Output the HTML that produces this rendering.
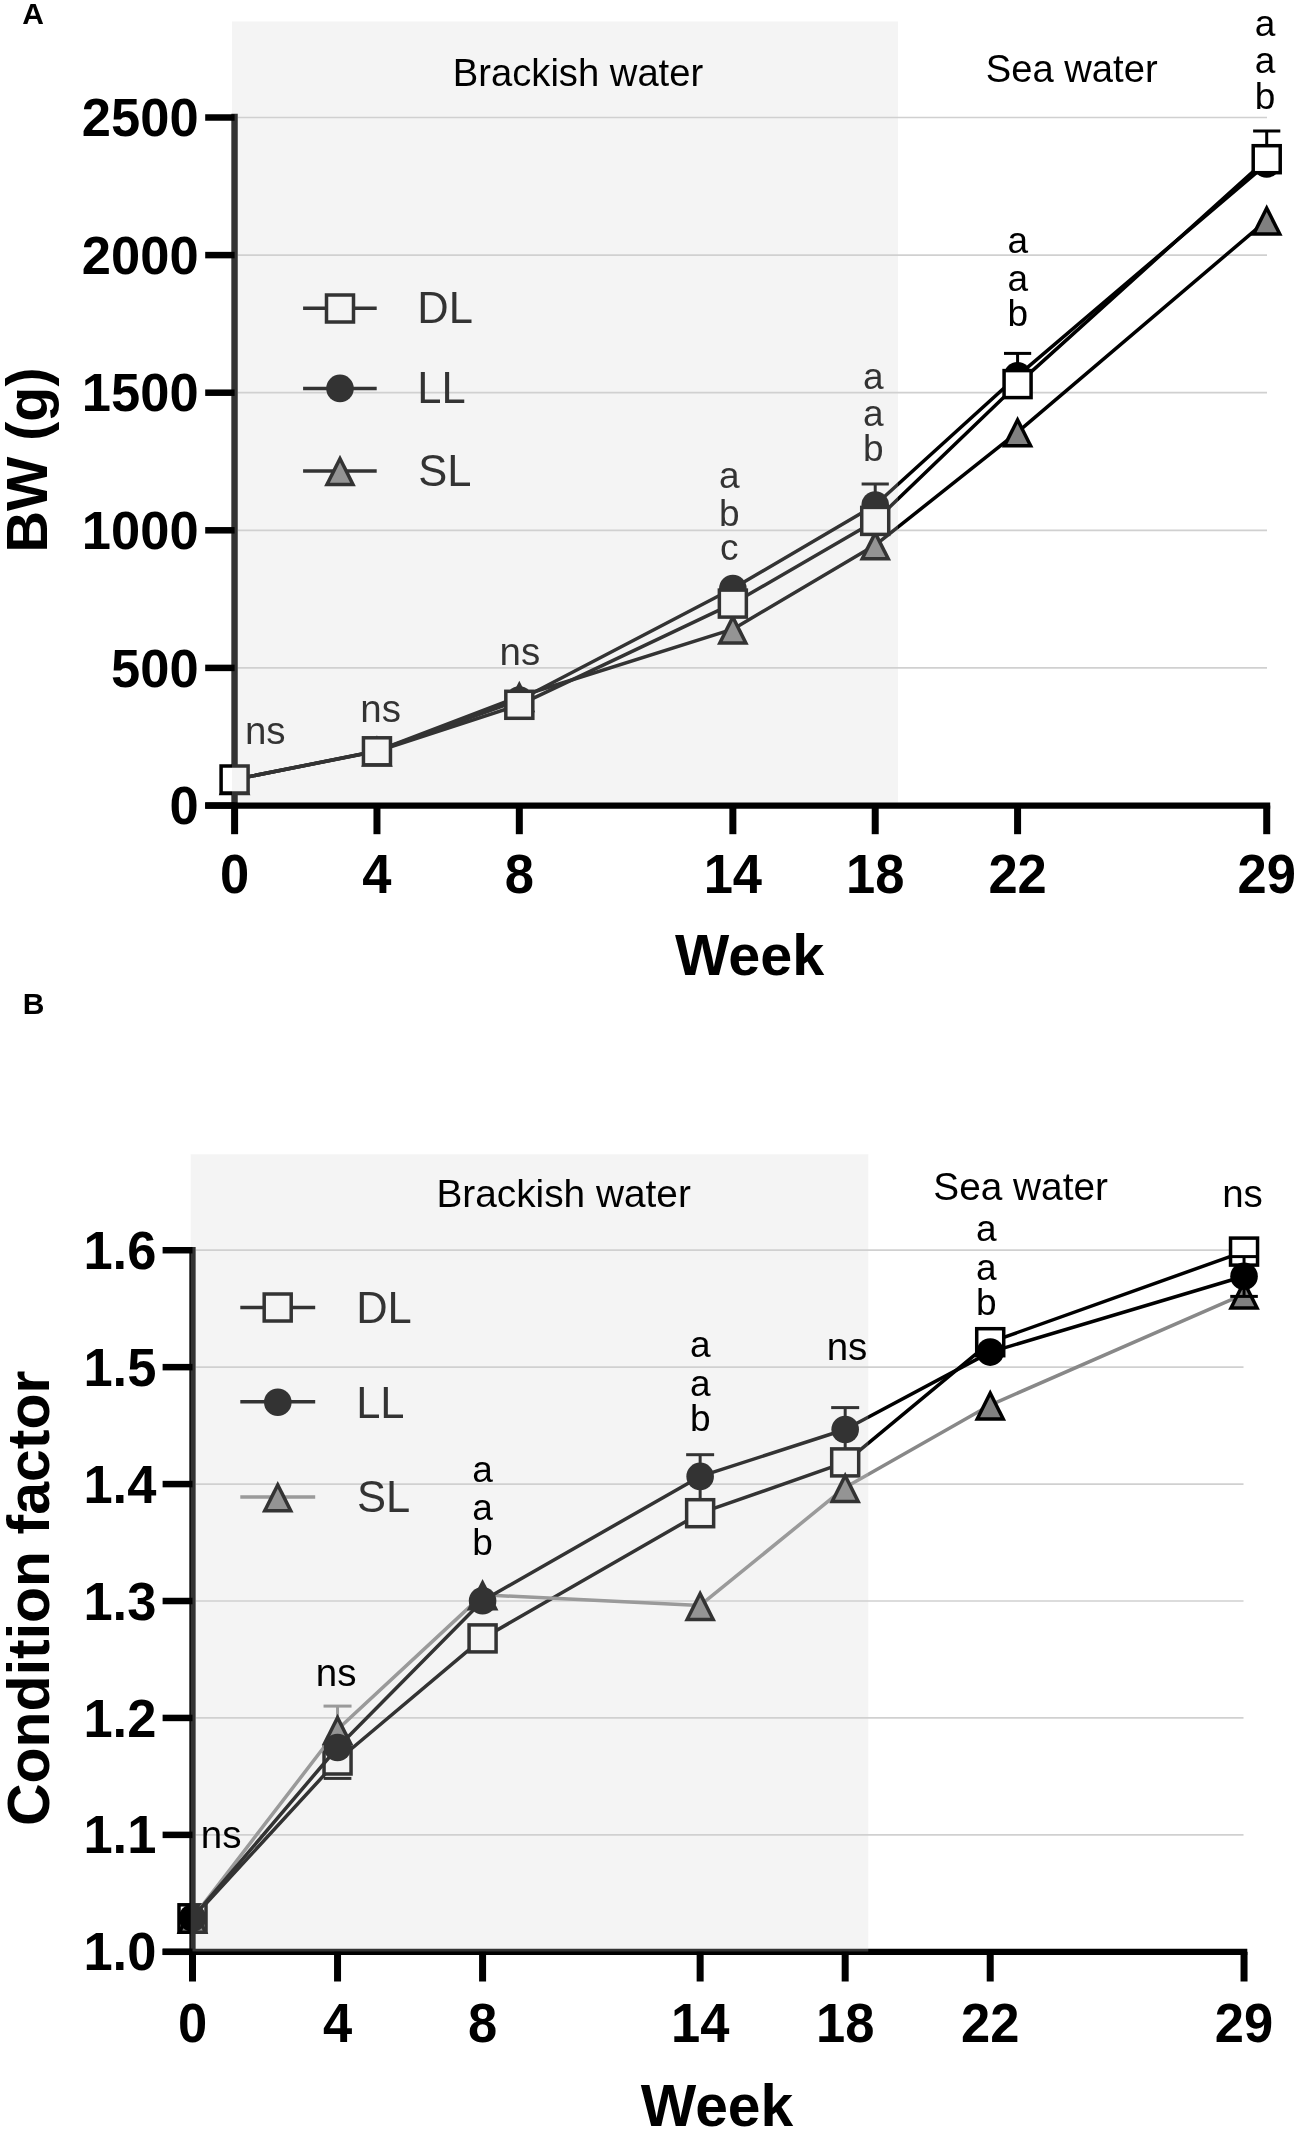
<!DOCTYPE html>
<html><head><meta charset="utf-8"><title>Figure</title>
<style>
html,body{margin:0;padding:0;background:#fff;}
body{width:1299px;height:2131px;overflow:hidden;}
svg{display:block;will-change:transform;font-family:"Liberation Sans", sans-serif;}
</style></head>
<body>
<svg width="1299" height="2131" viewBox="0 0 1299 2131">
<rect x="0" y="0" width="1299" height="2131" fill="#fff"/>
<line x1="237.7" y1="667.9" x2="1267" y2="667.9" stroke="#d0d0d0" stroke-width="1.7" stroke-linecap="butt"/>
<line x1="237.7" y1="530.3" x2="1267" y2="530.3" stroke="#d0d0d0" stroke-width="1.7" stroke-linecap="butt"/>
<line x1="237.7" y1="392.7" x2="1267" y2="392.7" stroke="#d0d0d0" stroke-width="1.7" stroke-linecap="butt"/>
<line x1="237.7" y1="255.1" x2="1267" y2="255.1" stroke="#d0d0d0" stroke-width="1.7" stroke-linecap="butt"/>
<line x1="237.7" y1="117.5" x2="1267" y2="117.5" stroke="#d0d0d0" stroke-width="1.7" stroke-linecap="butt"/>
<line x1="234.6" y1="113.8" x2="234.6" y2="805.5" stroke="#000" stroke-width="6.3" stroke-linecap="butt"/>
<polyline points="234.6,779.5 376.96,751 519.32,696.5 732.86,629.2 875.22,545.1 1017.58,432.2 1266.71,220.3" fill="none" stroke="#000" stroke-width="3.5" stroke-linejoin="round"/>
<polygon points="234.6,763.8 250.45,795.3 218.75,795.3" fill="#000"/>
<polygon points="234.6,771.59 244.77,791.8 224.43,791.8" fill="#808080"/>
<polygon points="376.96,735.3 392.81,766.8 361.11,766.8" fill="#000"/>
<polygon points="376.96,743.09 387.13,763.3 366.79,763.3" fill="#808080"/>
<polygon points="519.32,680.7 535.17,712.2 503.47,712.2" fill="#000"/>
<polygon points="519.32,688.49 529.49,708.7 509.15,708.7" fill="#808080"/>
<polygon points="732.86,613.2 748.71,644.7 717.01,644.7" fill="#000"/>
<polygon points="732.86,620.99 743.03,641.2 722.69,641.2" fill="#808080"/>
<polygon points="875.22,529.1 891.07,560.6 859.37,560.6" fill="#000"/>
<polygon points="875.22,536.89 885.39,557.1 865.05,557.1" fill="#808080"/>
<polygon points="1017.58,415.9 1033.43,447.4 1001.73,447.4" fill="#000"/>
<polygon points="1017.58,423.69 1027.75,443.9 1007.41,443.9" fill="#808080"/>
<polygon points="1266.71,204.3 1282.56,235.8 1250.86,235.8" fill="#000"/>
<polygon points="1266.71,212.09 1276.88,232.3 1256.54,232.3" fill="#808080"/>
<polyline points="234.6,779.5 376.96,751 519.32,700 732.86,588.5 875.22,505 1017.58,375.8 1266.71,163.9" fill="none" stroke="#000" stroke-width="3.5" stroke-linejoin="round"/>
<line x1="875.22" y1="505" x2="875.22" y2="484" stroke="#000" stroke-width="3" stroke-linecap="butt"/>
<line x1="861.62" y1="484" x2="888.82" y2="484" stroke="#000" stroke-width="3" stroke-linecap="butt"/>
<line x1="1017.58" y1="375.8" x2="1017.58" y2="353.4" stroke="#000" stroke-width="3" stroke-linecap="butt"/>
<line x1="1003.98" y1="353.4" x2="1031.18" y2="353.4" stroke="#000" stroke-width="3" stroke-linecap="butt"/>
<line x1="1266.71" y1="163.9" x2="1266.71" y2="131" stroke="#000" stroke-width="3" stroke-linecap="butt"/>
<line x1="1253.11" y1="131" x2="1280.31" y2="131" stroke="#000" stroke-width="3" stroke-linecap="butt"/>
<circle cx="234.6" cy="779.5" r="13.8" fill="#000"/>
<circle cx="376.96" cy="751" r="13.8" fill="#000"/>
<circle cx="519.32" cy="700" r="13.8" fill="#000"/>
<circle cx="732.86" cy="588.5" r="13.8" fill="#000"/>
<circle cx="875.22" cy="505" r="13.8" fill="#000"/>
<circle cx="1017.58" cy="375.8" r="13.8" fill="#000"/>
<circle cx="1266.71" cy="163.9" r="13.8" fill="#000"/>
<polyline points="234.6,779.5 376.96,751.3 519.32,704.8 732.86,603.6 875.22,520.9 1017.58,384.1 1266.71,159.2" fill="none" stroke="#000" stroke-width="3.5" stroke-linejoin="round"/>
<rect x="221.1" y="766" width="27" height="27" fill="#fff" stroke="#000" stroke-width="3.5"/>
<rect x="363.46" y="737.8" width="27" height="27" fill="#fff" stroke="#000" stroke-width="3.5"/>
<rect x="505.82" y="691.3" width="27" height="27" fill="#fff" stroke="#000" stroke-width="3.5"/>
<rect x="719.36" y="590.1" width="27" height="27" fill="#fff" stroke="#000" stroke-width="3.5"/>
<rect x="861.72" y="507.4" width="27" height="27" fill="#fff" stroke="#000" stroke-width="3.5"/>
<rect x="1004.08" y="370.6" width="27" height="27" fill="#fff" stroke="#000" stroke-width="3.5"/>
<rect x="1253.21" y="145.7" width="27" height="27" fill="#fff" stroke="#000" stroke-width="3.5"/>
<text x="265.3" y="743.6" font-size="38.5" font-weight="normal" text-anchor="middle" fill="#000">ns</text>
<text x="380.7" y="722.4" font-size="38.5" font-weight="normal" text-anchor="middle" fill="#000">ns</text>
<text x="519.9" y="665" font-size="38.5" font-weight="normal" text-anchor="middle" fill="#000">ns</text>
<text x="729.3" y="488.1" font-size="37" font-weight="normal" text-anchor="middle" fill="#000">a</text>
<text x="729.3" y="526" font-size="37" font-weight="normal" text-anchor="middle" fill="#000">b</text>
<text x="729.3" y="560.1" font-size="37" font-weight="normal" text-anchor="middle" fill="#000">c</text>
<text x="873.3" y="388.7" font-size="37" font-weight="normal" text-anchor="middle" fill="#000">a</text>
<text x="873.3" y="426.2" font-size="37" font-weight="normal" text-anchor="middle" fill="#000">a</text>
<text x="873.3" y="460.9" font-size="37" font-weight="normal" text-anchor="middle" fill="#000">b</text>
<text x="1017.7" y="253.3" font-size="37" font-weight="normal" text-anchor="middle" fill="#000">a</text>
<text x="1017.7" y="291.2" font-size="37" font-weight="normal" text-anchor="middle" fill="#000">a</text>
<text x="1017.7" y="325.9" font-size="37" font-weight="normal" text-anchor="middle" fill="#000">b</text>
<text x="1265" y="35.9" font-size="37" font-weight="normal" text-anchor="middle" fill="#000">a</text>
<text x="1265" y="73.4" font-size="37" font-weight="normal" text-anchor="middle" fill="#000">a</text>
<text x="1265" y="108.6" font-size="37" font-weight="normal" text-anchor="middle" fill="#000">b</text>
<line x1="303.1" y1="308.3" x2="376.7" y2="308.3" stroke="#000" stroke-width="3.5" stroke-linecap="butt"/>
<rect x="326.5" y="295" width="27" height="27" fill="#fff" stroke="#000" stroke-width="3.5"/>
<text x="417.33" y="323" font-size="43.5" font-weight="normal" text-anchor="start" fill="#000">DL</text>
<line x1="303.1" y1="388.6" x2="376.7" y2="388.6" stroke="#000" stroke-width="3.5" stroke-linecap="butt"/>
<circle cx="340" cy="388.4" r="13.8" fill="#000"/>
<text x="417.33" y="403" font-size="43.5" font-weight="normal" text-anchor="start" fill="#000">LL</text>
<line x1="303.1" y1="470.9" x2="376.7" y2="470.9" stroke="#000" stroke-width="3.5" stroke-linecap="butt"/>
<polygon points="340,454.8 355.85,486.3 324.15,486.3" fill="#000"/>
<polygon points="340,462.59 350.17,482.8 329.83,482.8" fill="#808080"/>
<text x="418.14" y="486" font-size="43.5" font-weight="normal" text-anchor="start" fill="#000">SL</text>
<rect x="232" y="21.5" width="666" height="781" fill="#d2d2d2" fill-opacity="0.243"/>
<text x="452.77" y="85.5" font-size="38.2" font-weight="normal" text-anchor="start" fill="#000">Brackish water</text>
<text x="985.68" y="81.6" font-size="38.2" font-weight="normal" text-anchor="start" fill="#000">Sea water</text>
<line x1="205.2" y1="805.55" x2="1270.2" y2="805.55" stroke="#000" stroke-width="6.3" stroke-linecap="butt"/>
<line x1="205.2" y1="805.5" x2="234.6" y2="805.5" stroke="#000" stroke-width="6.5" stroke-linecap="butt"/>
<g transform="translate(198.6 824.1) scale(1 1.035)"><text x="0" y="0" font-size="52.5" font-weight="bold" text-anchor="end" fill="#000">0</text></g>
<line x1="205.2" y1="667.9" x2="234.6" y2="667.9" stroke="#000" stroke-width="6.5" stroke-linecap="butt"/>
<g transform="translate(198.6 686.5) scale(1 1.035)"><text x="0" y="0" font-size="52.5" font-weight="bold" text-anchor="end" fill="#000">500</text></g>
<line x1="205.2" y1="530.3" x2="234.6" y2="530.3" stroke="#000" stroke-width="6.5" stroke-linecap="butt"/>
<g transform="translate(198.6 548.9) scale(1 1.035)"><text x="0" y="0" font-size="52.5" font-weight="bold" text-anchor="end" fill="#000">1000</text></g>
<line x1="205.2" y1="392.7" x2="234.6" y2="392.7" stroke="#000" stroke-width="6.5" stroke-linecap="butt"/>
<g transform="translate(198.6 411.3) scale(1 1.035)"><text x="0" y="0" font-size="52.5" font-weight="bold" text-anchor="end" fill="#000">1500</text></g>
<line x1="205.2" y1="255.1" x2="234.6" y2="255.1" stroke="#000" stroke-width="6.5" stroke-linecap="butt"/>
<g transform="translate(198.6 273.7) scale(1 1.035)"><text x="0" y="0" font-size="52.5" font-weight="bold" text-anchor="end" fill="#000">2000</text></g>
<line x1="205.2" y1="117.5" x2="234.6" y2="117.5" stroke="#000" stroke-width="6.5" stroke-linecap="butt"/>
<g transform="translate(198.6 136.1) scale(1 1.035)"><text x="0" y="0" font-size="52.5" font-weight="bold" text-anchor="end" fill="#000">2500</text></g>
<line x1="234.6" y1="805.5" x2="234.6" y2="834.2" stroke="#000" stroke-width="7" stroke-linecap="butt"/>
<g transform="translate(234.6 892.6) scale(1 1.04)"><text x="0" y="0" font-size="52.5" font-weight="bold" text-anchor="middle" fill="#000">0</text></g>
<line x1="376.96" y1="805.5" x2="376.96" y2="834.2" stroke="#000" stroke-width="7" stroke-linecap="butt"/>
<g transform="translate(376.96 892.6) scale(1 1.04)"><text x="0" y="0" font-size="52.5" font-weight="bold" text-anchor="middle" fill="#000">4</text></g>
<line x1="519.32" y1="805.5" x2="519.32" y2="834.2" stroke="#000" stroke-width="7" stroke-linecap="butt"/>
<g transform="translate(519.32 892.6) scale(1 1.04)"><text x="0" y="0" font-size="52.5" font-weight="bold" text-anchor="middle" fill="#000">8</text></g>
<line x1="732.86" y1="805.5" x2="732.86" y2="834.2" stroke="#000" stroke-width="7" stroke-linecap="butt"/>
<g transform="translate(732.86 892.6) scale(1 1.04)"><text x="0" y="0" font-size="52.5" font-weight="bold" text-anchor="middle" fill="#000">14</text></g>
<line x1="875.22" y1="805.5" x2="875.22" y2="834.2" stroke="#000" stroke-width="7" stroke-linecap="butt"/>
<g transform="translate(875.22 892.6) scale(1 1.04)"><text x="0" y="0" font-size="52.5" font-weight="bold" text-anchor="middle" fill="#000">18</text></g>
<line x1="1017.58" y1="805.5" x2="1017.58" y2="834.2" stroke="#000" stroke-width="7" stroke-linecap="butt"/>
<g transform="translate(1017.58 892.6) scale(1 1.04)"><text x="0" y="0" font-size="52.5" font-weight="bold" text-anchor="middle" fill="#000">22</text></g>
<line x1="1266.71" y1="805.5" x2="1266.71" y2="834.2" stroke="#000" stroke-width="7" stroke-linecap="butt"/>
<g transform="translate(1266.71 892.6) scale(1 1.04)"><text x="0" y="0" font-size="52.5" font-weight="bold" text-anchor="middle" fill="#000">29</text></g>
<text x="749.6" y="975" font-size="57.5" font-weight="bold" text-anchor="middle" fill="#000">Week</text>
<text x="47.4" y="460" font-size="57.5" font-weight="bold" text-anchor="middle" fill="#000" transform="rotate(-90 47.4 460)">BW (g)</text>
<text x="22.25" y="24" font-size="30" font-weight="bold" text-anchor="start" fill="#000">A</text>
<line x1="195.6" y1="1834.87" x2="1243.5" y2="1834.87" stroke="#d0d0d0" stroke-width="1.7" stroke-linecap="butt"/>
<line x1="195.6" y1="1717.94" x2="1243.5" y2="1717.94" stroke="#d0d0d0" stroke-width="1.7" stroke-linecap="butt"/>
<line x1="195.6" y1="1601.01" x2="1243.5" y2="1601.01" stroke="#d0d0d0" stroke-width="1.7" stroke-linecap="butt"/>
<line x1="195.6" y1="1484.08" x2="1243.5" y2="1484.08" stroke="#d0d0d0" stroke-width="1.7" stroke-linecap="butt"/>
<line x1="195.6" y1="1367.15" x2="1243.5" y2="1367.15" stroke="#d0d0d0" stroke-width="1.7" stroke-linecap="butt"/>
<line x1="195.6" y1="1250.22" x2="1243.5" y2="1250.22" stroke="#d0d0d0" stroke-width="1.7" stroke-linecap="butt"/>
<line x1="192.5" y1="1247" x2="192.5" y2="1952" stroke="#000" stroke-width="6.3" stroke-linecap="butt"/>
<polyline points="192.5,1918.3 337.54,1760.5 482.58,1638.4 700.14,1513.2 845.18,1462.4 990.22,1342.2 1244.04,1251.6" fill="none" stroke="#000" stroke-width="3.5" stroke-linejoin="round"/>
<line x1="700.14" y1="1513.2" x2="700.14" y2="1476.4" stroke="#000" stroke-width="3" stroke-linecap="butt"/>
<line x1="845.18" y1="1462.4" x2="845.18" y2="1429.5" stroke="#000" stroke-width="3" stroke-linecap="butt"/>
<rect x="179" y="1904.8" width="27" height="27" fill="#fff" stroke="#000" stroke-width="3.5"/>
<rect x="324.04" y="1747" width="27" height="27" fill="#fff" stroke="#000" stroke-width="3.5"/>
<rect x="469.08" y="1624.9" width="27" height="27" fill="#fff" stroke="#000" stroke-width="3.5"/>
<rect x="686.64" y="1499.7" width="27" height="27" fill="#fff" stroke="#000" stroke-width="3.5"/>
<rect x="831.68" y="1448.9" width="27" height="27" fill="#fff" stroke="#000" stroke-width="3.5"/>
<rect x="976.72" y="1328.7" width="27" height="27" fill="#fff" stroke="#000" stroke-width="3.5"/>
<rect x="1230.54" y="1238.1" width="27" height="27" fill="#fff" stroke="#000" stroke-width="3.5"/>
<line x1="323.69" y1="1778.4" x2="351.39" y2="1778.4" stroke="#000" stroke-width="3" stroke-linecap="butt"/>
<polyline points="192.5,1918.25 337.54,1729.55 482.58,1594.85 700.14,1605.45 845.18,1487.45 990.22,1405.05 1244.04,1294.05" fill="none" stroke="#888" stroke-width="3.5" stroke-linejoin="round"/>
<line x1="337.54" y1="1729.55" x2="337.54" y2="1706.1" stroke="#888" stroke-width="3" stroke-linecap="butt"/>
<line x1="323.54" y1="1706.1" x2="351.54" y2="1706.1" stroke="#888" stroke-width="3" stroke-linecap="butt"/>
<polygon points="192.5,1902.5 208.35,1934 176.65,1934" fill="#000"/>
<polygon points="192.5,1910.29 202.67,1930.5 182.33,1930.5" fill="#808080"/>
<polygon points="337.54,1713.8 353.39,1745.3 321.69,1745.3" fill="#000"/>
<polygon points="337.54,1721.59 347.71,1741.8 327.37,1741.8" fill="#808080"/>
<polygon points="482.58,1579.1 498.43,1610.6 466.73,1610.6" fill="#000"/>
<polygon points="482.58,1586.89 492.75,1607.1 472.41,1607.1" fill="#808080"/>
<polygon points="700.14,1589.7 715.99,1621.2 684.29,1621.2" fill="#000"/>
<polygon points="700.14,1597.49 710.31,1617.7 689.97,1617.7" fill="#808080"/>
<polygon points="845.18,1471.7 861.03,1503.2 829.33,1503.2" fill="#000"/>
<polygon points="845.18,1479.49 855.35,1499.7 835.01,1499.7" fill="#808080"/>
<polygon points="990.22,1389.3 1006.07,1420.8 974.37,1420.8" fill="#000"/>
<polygon points="990.22,1397.09 1000.39,1417.3 980.05,1417.3" fill="#808080"/>
<polygon points="1244.04,1278.3 1259.89,1309.8 1228.19,1309.8" fill="#000"/>
<polygon points="1244.04,1286.09 1254.21,1306.3 1233.87,1306.3" fill="#808080"/>
<line x1="1244.04" y1="1296.4" x2="1244.04" y2="1283" stroke="#000" stroke-width="3" stroke-linecap="butt"/>
<line x1="1230.24" y1="1296.4" x2="1257.84" y2="1296.4" stroke="#000" stroke-width="3" stroke-linecap="butt"/>
<polyline points="192.5,1918 337.54,1747.5 482.58,1600.7 700.14,1476.4 845.18,1429.5 990.22,1352.1 1244.04,1276.2" fill="none" stroke="#000" stroke-width="3.5" stroke-linejoin="round"/>
<line x1="700.14" y1="1476.4" x2="700.14" y2="1454.7" stroke="#000" stroke-width="3" stroke-linecap="butt"/>
<line x1="686.14" y1="1454.7" x2="714.14" y2="1454.7" stroke="#000" stroke-width="3" stroke-linecap="butt"/>
<line x1="845.18" y1="1429.5" x2="845.18" y2="1407.6" stroke="#000" stroke-width="3" stroke-linecap="butt"/>
<line x1="831.18" y1="1407.6" x2="859.18" y2="1407.6" stroke="#000" stroke-width="3" stroke-linecap="butt"/>
<line x1="1244.04" y1="1276.2" x2="1244.04" y2="1256.6" stroke="#000" stroke-width="3" stroke-linecap="butt"/>
<line x1="1230.04" y1="1256.6" x2="1258.04" y2="1256.6" stroke="#000" stroke-width="3" stroke-linecap="butt"/>
<circle cx="192.5" cy="1918" r="13.8" fill="#000"/>
<circle cx="337.54" cy="1747.5" r="13.8" fill="#000"/>
<circle cx="482.58" cy="1600.7" r="13.8" fill="#000"/>
<circle cx="700.14" cy="1476.4" r="13.8" fill="#000"/>
<circle cx="845.18" cy="1429.5" r="13.8" fill="#000"/>
<circle cx="990.22" cy="1352.1" r="13.8" fill="#000"/>
<circle cx="1244.04" cy="1276.2" r="13.8" fill="#000"/>
<line x1="240.3" y1="1307.6" x2="315.2" y2="1307.6" stroke="#000" stroke-width="3.5" stroke-linecap="butt"/>
<rect x="264.2" y="1294" width="27" height="27" fill="#fff" stroke="#000" stroke-width="3.5"/>
<text x="356.13" y="1322.9" font-size="43.5" font-weight="normal" text-anchor="start" fill="#000">DL</text>
<line x1="240.3" y1="1401.8" x2="315.2" y2="1401.8" stroke="#000" stroke-width="3.5" stroke-linecap="butt"/>
<circle cx="277.8" cy="1402.3" r="13.8" fill="#000"/>
<text x="356.13" y="1417.8" font-size="43.5" font-weight="normal" text-anchor="start" fill="#000">LL</text>
<line x1="240.3" y1="1496.9" x2="315.2" y2="1496.9" stroke="#888" stroke-width="3.5" stroke-linecap="butt"/>
<polygon points="277.75,1481 293.6,1512.5 261.9,1512.5" fill="#000"/>
<polygon points="277.75,1488.79 287.92,1509 267.58,1509" fill="#808080"/>
<text x="356.94" y="1512" font-size="43.5" font-weight="normal" text-anchor="start" fill="#000">SL</text>
<line x1="162.6" y1="1951.95" x2="1247.3" y2="1951.95" stroke="#000" stroke-width="6.3" stroke-linecap="butt"/>
<rect x="190.7" y="1154.2" width="677.6" height="797.3" fill="#d2d2d2" fill-opacity="0.243"/>
<text x="221.2" y="1847.7" font-size="38.5" font-weight="normal" text-anchor="middle" fill="#000">ns</text>
<text x="336.2" y="1686.3" font-size="38.5" font-weight="normal" text-anchor="middle" fill="#000">ns</text>
<text x="847" y="1360.3" font-size="38.5" font-weight="normal" text-anchor="middle" fill="#000">ns</text>
<text x="1242.5" y="1206.8" font-size="38.5" font-weight="normal" text-anchor="middle" fill="#000">ns</text>
<text x="482.6" y="1481.8" font-size="37" font-weight="normal" text-anchor="middle" fill="#000">a</text>
<text x="482.6" y="1520.2" font-size="37" font-weight="normal" text-anchor="middle" fill="#000">a</text>
<text x="482.6" y="1555.1" font-size="37" font-weight="normal" text-anchor="middle" fill="#000">b</text>
<text x="700.2" y="1357" font-size="37" font-weight="normal" text-anchor="middle" fill="#000">a</text>
<text x="700.2" y="1395.5" font-size="37" font-weight="normal" text-anchor="middle" fill="#000">a</text>
<text x="700.2" y="1431.1" font-size="37" font-weight="normal" text-anchor="middle" fill="#000">b</text>
<text x="986.2" y="1241.4" font-size="37" font-weight="normal" text-anchor="middle" fill="#000">a</text>
<text x="986.2" y="1279.7" font-size="37" font-weight="normal" text-anchor="middle" fill="#000">a</text>
<text x="986.2" y="1315" font-size="37" font-weight="normal" text-anchor="middle" fill="#000">b</text>
<text x="436.42" y="1207.4" font-size="38.8" font-weight="normal" text-anchor="start" fill="#000">Brackish water</text>
<text x="933.25" y="1200" font-size="38.8" font-weight="normal" text-anchor="start" fill="#000">Sea water</text>
<line x1="162.6" y1="1951.8" x2="192.5" y2="1951.8" stroke="#000" stroke-width="6.5" stroke-linecap="butt"/>
<g transform="translate(156.4 1970.4) scale(1 1.035)"><text x="0" y="0" font-size="52.5" font-weight="bold" text-anchor="end" fill="#000">1.0</text></g>
<line x1="162.6" y1="1834.87" x2="192.5" y2="1834.87" stroke="#000" stroke-width="6.5" stroke-linecap="butt"/>
<g transform="translate(156.4 1853.47) scale(1 1.035)"><text x="0" y="0" font-size="52.5" font-weight="bold" text-anchor="end" fill="#000">1.1</text></g>
<line x1="162.6" y1="1717.94" x2="192.5" y2="1717.94" stroke="#000" stroke-width="6.5" stroke-linecap="butt"/>
<g transform="translate(156.4 1736.54) scale(1 1.035)"><text x="0" y="0" font-size="52.5" font-weight="bold" text-anchor="end" fill="#000">1.2</text></g>
<line x1="162.6" y1="1601.01" x2="192.5" y2="1601.01" stroke="#000" stroke-width="6.5" stroke-linecap="butt"/>
<g transform="translate(156.4 1619.61) scale(1 1.035)"><text x="0" y="0" font-size="52.5" font-weight="bold" text-anchor="end" fill="#000">1.3</text></g>
<line x1="162.6" y1="1484.08" x2="192.5" y2="1484.08" stroke="#000" stroke-width="6.5" stroke-linecap="butt"/>
<g transform="translate(156.4 1502.68) scale(1 1.035)"><text x="0" y="0" font-size="52.5" font-weight="bold" text-anchor="end" fill="#000">1.4</text></g>
<line x1="162.6" y1="1367.15" x2="192.5" y2="1367.15" stroke="#000" stroke-width="6.5" stroke-linecap="butt"/>
<g transform="translate(156.4 1385.75) scale(1 1.035)"><text x="0" y="0" font-size="52.5" font-weight="bold" text-anchor="end" fill="#000">1.5</text></g>
<line x1="162.6" y1="1250.22" x2="192.5" y2="1250.22" stroke="#000" stroke-width="6.5" stroke-linecap="butt"/>
<g transform="translate(156.4 1268.82) scale(1 1.035)"><text x="0" y="0" font-size="52.5" font-weight="bold" text-anchor="end" fill="#000">1.6</text></g>
<line x1="192.5" y1="1951.8" x2="192.5" y2="1981.5" stroke="#000" stroke-width="7" stroke-linecap="butt"/>
<g transform="translate(192.5 2041.8) scale(1 1.04)"><text x="0" y="0" font-size="52.5" font-weight="bold" text-anchor="middle" fill="#000">0</text></g>
<line x1="337.54" y1="1951.8" x2="337.54" y2="1981.5" stroke="#000" stroke-width="7" stroke-linecap="butt"/>
<g transform="translate(337.54 2041.8) scale(1 1.04)"><text x="0" y="0" font-size="52.5" font-weight="bold" text-anchor="middle" fill="#000">4</text></g>
<line x1="482.58" y1="1951.8" x2="482.58" y2="1981.5" stroke="#000" stroke-width="7" stroke-linecap="butt"/>
<g transform="translate(482.58 2041.8) scale(1 1.04)"><text x="0" y="0" font-size="52.5" font-weight="bold" text-anchor="middle" fill="#000">8</text></g>
<line x1="700.14" y1="1951.8" x2="700.14" y2="1981.5" stroke="#000" stroke-width="7" stroke-linecap="butt"/>
<g transform="translate(700.14 2041.8) scale(1 1.04)"><text x="0" y="0" font-size="52.5" font-weight="bold" text-anchor="middle" fill="#000">14</text></g>
<line x1="845.18" y1="1951.8" x2="845.18" y2="1981.5" stroke="#000" stroke-width="7" stroke-linecap="butt"/>
<g transform="translate(845.18 2041.8) scale(1 1.04)"><text x="0" y="0" font-size="52.5" font-weight="bold" text-anchor="middle" fill="#000">18</text></g>
<line x1="990.22" y1="1951.8" x2="990.22" y2="1981.5" stroke="#000" stroke-width="7" stroke-linecap="butt"/>
<g transform="translate(990.22 2041.8) scale(1 1.04)"><text x="0" y="0" font-size="52.5" font-weight="bold" text-anchor="middle" fill="#000">22</text></g>
<line x1="1244.04" y1="1951.8" x2="1244.04" y2="1981.5" stroke="#000" stroke-width="7" stroke-linecap="butt"/>
<g transform="translate(1244.04 2041.8) scale(1 1.04)"><text x="0" y="0" font-size="52.5" font-weight="bold" text-anchor="middle" fill="#000">29</text></g>
<text x="717" y="2126" font-size="58.8" font-weight="bold" text-anchor="middle" fill="#000">Week</text>
<text x="49.4" y="1598.3" font-size="59" font-weight="bold" text-anchor="middle" fill="#000" transform="rotate(-90 49.4 1598.3)">Condition factor</text>
<text x="22.79" y="1013.6" font-size="30" font-weight="bold" text-anchor="start" fill="#000">B</text>
</svg>
</body></html>
